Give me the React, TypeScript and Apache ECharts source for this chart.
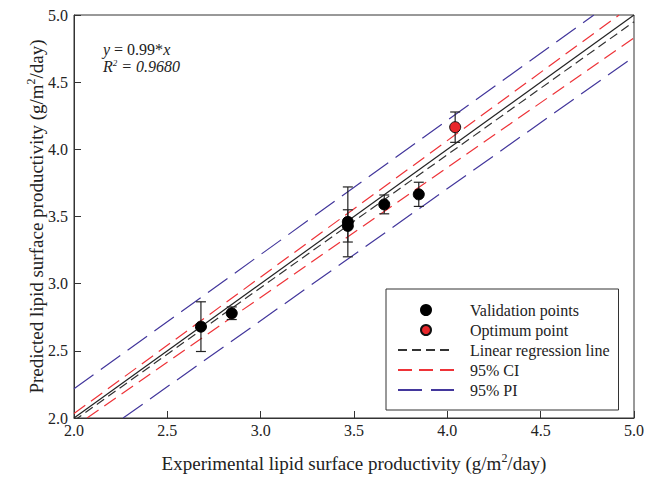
import React, { useEffect, useRef } from "react";
import * as echarts from "echarts";

// Validation points (experimental, predicted, error)
const valX = [2.68, 2.845, 3.467, 3.467, 3.662, 3.847];
const valY = [2.68, 2.78, 3.46, 3.43, 3.59, 3.665];
const valErr = [0.185, 0.047, 0.26, 0.12, 0.07, 0.09];

// Optimum point
const optX = [4.042];
const optY = [4.165];
const optErr = [0.113];

// Reference / regression / interval lines (endpoints)
const identityLine = [[2.0, 2.0], [5.0, 5.0]];
const regressionLine = [[2.0, 1.98], [5.0, 4.95]];
const ciUpper = [[2.0, 2.033], [4.92, 5.0]];
const ciLower = [[2.07, 2.0], [5.0, 4.83]];
const piUpper = [[2.0, 2.218], [4.785, 5.0]];
const piLower = [[2.263, 2.0], [5.0, 4.69]];

const axisTicks = [2.0, 2.5, 3.0, 3.5, 4.0, 4.5, 5.0];

const FONT = "Liberation Serif";

export default function App() {
  const ref = useRef<HTMLDivElement>(null);
  useEffect(() => {
    if (!ref.current) return;
    const chart = echarts.init(ref.current, null, { renderer: "svg" });

    const valData = valX.map((x, i) => [x, valY[i]]);
    const optData = optX.map((x, i) => [x, optY[i]]);
    const errData = [
      ...valX.map((x, i) => [x, valY[i], valY[i] - valErr[i], valY[i] + valErr[i]]),
      ...optX.map((x, i) => [x, optY[i], optY[i] - optErr[i], optY[i] + optErr[i]]),
    ];

    const lineSeries = (name: string, data: number[][], color: string, type: any) => ({
      name,
      type: "line",
      data,
      showSymbol: false,
      symbol: "none",
      silent: true,
      lineStyle: { color, width: 1.2, type },
      itemStyle: { color },
      z: 2,
    });

    const nameStyle = {
      fontFamily: FONT,
      fontSize: 19,
      color: "#222",
      rich: {
        sup: { fontFamily: FONT, fontSize: 12, color: "#222", padding: [0, 0, 10, 0] },
      },
    };

    const hiddenIcon = { opacity: 0 };

    const option: any = {
      animation: false,
      backgroundColor: "#ffffff",
      grid: {
        left: 74,
        right: 10,
        top: 15,
        bottom: 65,
        show: true,
        borderColor: "#333",
        borderWidth: 1,
      },
      xAxis: {
        type: "value",
        min: 2.0,
        max: 5.0,
        interval: 0.5,
        name: "Experimental lipid surface productivity (g/m{sup|2}/day)",
        nameLocation: "middle",
        nameGap: 34,
        nameMoveOverlap: false,
        nameTextStyle: nameStyle,
        axisLine: { show: true, onZero: false, lineStyle: { color: "#333", width: 1 } },
        axisTick: { show: true, inside: true, length: 7, lineStyle: { color: "#333" } },
        axisLabel: {
          fontFamily: FONT,
          fontSize: 16,
          color: "#222",
          margin: 4,
          formatter: (v: number) => (axisTicks.includes(v) ? v.toFixed(1) : ""),
        },
        splitLine: { show: false },
      },
      yAxis: {
        type: "value",
        min: 2.0,
        max: 5.0,
        interval: 0.5,
        name: "Predicted lipid surface productivity (g/m{sup|2}/day)",
        nameLocation: "middle",
        nameGap: 27,
        nameMoveOverlap: false,
        nameTextStyle: nameStyle,
        axisLine: { show: true, onZero: false, lineStyle: { color: "#333", width: 1 } },
        axisTick: { show: true, inside: true, length: 7, lineStyle: { color: "#333" } },
        axisLabel: {
          fontFamily: FONT,
          fontSize: 16,
          color: "#222",
          margin: 6,
          formatter: (v: number) => (axisTicks.includes(v) ? v.toFixed(1) : ""),
        },
        splitLine: { show: false },
      },
      legend: {
        orient: "vertical",
        left: 386,
        top: 289,
        data: [
          { name: "Validation points" },
          { name: "Optimum point" },
          { name: "Linear regression line", itemStyle: hiddenIcon },
          { name: "95% CI", itemStyle: hiddenIcon },
          { name: "95% PI", itemStyle: hiddenIcon },
        ],
        itemWidth: 56,
        itemHeight: 10,
        itemGap: 4,
        padding: [13, 9, 12, 11],
        borderColor: "#333",
        borderWidth: 1,
        backgroundColor: "#fff",
        selectedMode: false,
        textStyle: {
          fontFamily: FONT,
          fontSize: 16,
          lineHeight: 14,
          color: "#222",
          padding: [0, 0, 0, 11],
        },
      },
      graphic: [
        {
          type: "text",
          left: 103,
          top: 41,
          style: {
            text: "{i|y} = 0.99*{i|x}",
            fontFamily: FONT,
            fontSize: 16,
            fill: "#222",
            rich: {
              i: { fontFamily: FONT, fontSize: 16, fontStyle: "italic", fill: "#222" },
            },
          },
        },
        {
          type: "text",
          left: 103,
          top: 58,
          style: {
            text: "R{s|2} = 0.9680",
            fontFamily: FONT,
            fontSize: 16,
            fontStyle: "italic",
            fill: "#222",
            rich: {
              s: {
                fontFamily: FONT,
                fontSize: 9,
                fontStyle: "italic",
                fill: "#222",
                padding: [0, 0, 8, 0],
              },
            },
          },
        },
      ],
      series: [
        lineSeries("identity", identityLine, "#222", "solid"),
        lineSeries("Linear regression line", regressionLine, "#333", [9, 5]),
        lineSeries("95% CI", ciUpper, "#ee3338", [14, 7]),
        lineSeries("95% CI", ciLower, "#ee3338", [14, 7]),
        lineSeries("95% PI", piUpper, "#43379c", [24, 9]),
        lineSeries("95% PI", piLower, "#43379c", [24, 9]),
        {
          name: "errors",
          type: "custom",
          data: errData,
          silent: true,
          z: 3,
          encode: { x: 0, y: [2, 3] },
          renderItem: (params: any, api: any) => {
            const x = api.value(0);
            const lo = api.coord([x, api.value(2)]);
            const hi = api.coord([x, api.value(3)]);
            const hw = 5;
            const st = { stroke: "#222", lineWidth: 1.2 };
            return {
              type: "group",
              children: [
                { type: "line", shape: { x1: lo[0], y1: lo[1], x2: hi[0], y2: hi[1] }, style: st },
                { type: "line", shape: { x1: lo[0] - hw, y1: lo[1], x2: lo[0] + hw, y2: lo[1] }, style: st },
                { type: "line", shape: { x1: hi[0] - hw, y1: hi[1], x2: hi[0] + hw, y2: hi[1] }, style: st },
              ],
            };
          },
        },
        {
          name: "Validation points",
          type: "scatter",
          data: valData,
          symbol: "circle",
          symbolSize: 11,
          itemStyle: { color: "#000", borderColor: "#000", borderWidth: 1, opacity: 1 },
          z: 4,
        },
        {
          name: "Optimum point",
          type: "scatter",
          data: optData,
          symbol: "circle",
          symbolSize: 11,
          itemStyle: { color: "#e8262a", borderColor: "#111", borderWidth: 1, opacity: 1 },
          z: 4,
        },
      ],
    };

    chart.setOption(option);
    return () => chart.dispose();
  }, []);

  return (
    <div
      ref={ref}
      style={{ position: "fixed", left: 0, top: 0, width: 647, height: 483 }}
    />
  );
}
